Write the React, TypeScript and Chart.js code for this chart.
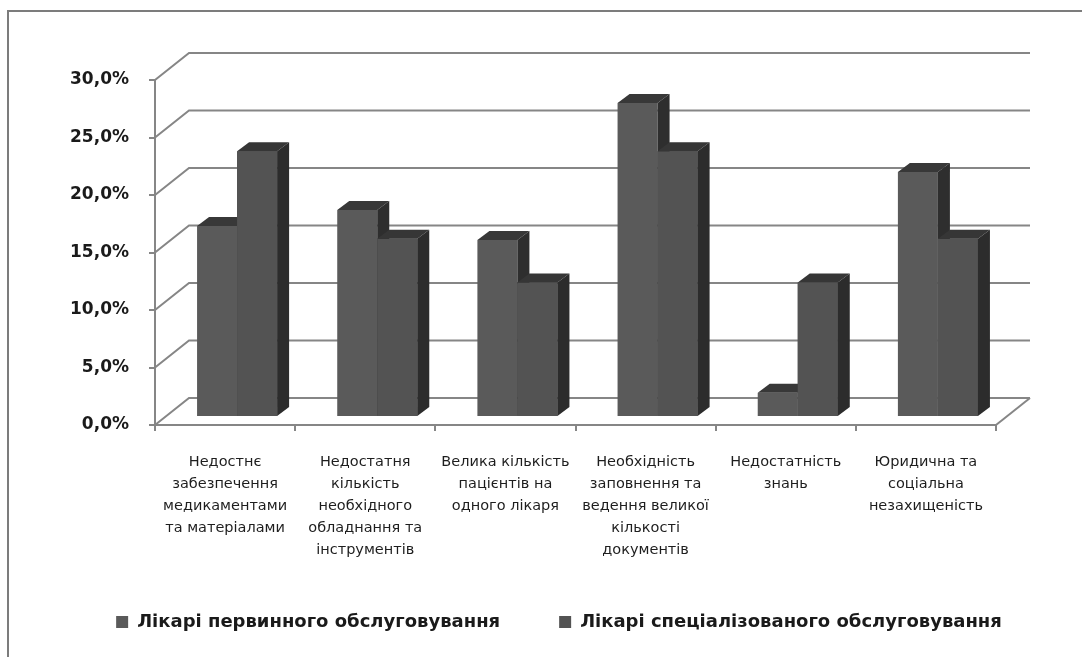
import React, { useEffect, useRef } from "react";
import { Chart, registerables } from "chart.js";

Chart.register(...registerables);

// ---- data ----
const categories: string[][] = [
  ["Недостнє", "забезпечення", "медикаментами", "та матеріалами"],
  ["Недостатня", "кількість", "необхідного", "обладнання та", "інструментів"],
  ["Велика кількість", "пацієнтів на", "одного лікаря"],
  ["Необхідність", "заповнення та", "ведення великої", "кількості", "документів"],
  ["Недостатність", "знань"],
  ["Юридична та", "соціальна", "незахищеність"],
];
const seriesNames = ["Лікарі первинного обслуговування", "Лікарі спеціалізованого обслуговування"];
const primaryValues = [16.6, 18.0, 15.4, 27.3, 2.1, 21.3];
const specializedValues = [23.1, 15.5, 11.7, 23.1, 11.7, 15.5];
const yMin = 0;
const yMax = 30;
const yStep = 5;

// ---- styling ----
const W = 1082;
const H = 657;
const PAD_LEFT = 36;
const PAD_RIGHT = 0;
const PAD_TOP = 80;
const PAD_BOTTOM = 16;
const Y_AXIS_W = 155 - PAD_LEFT;
const RIGHT_SPACE = 86;
const X_AXIS_H = 129;
const X_LABEL_CLIP_H = 150;
const FRONT_COLORS = ["#5a5a5a", "#535353"];
const TOP_COLORS = ["#383838", "#363636"];
const SIDE_COLORS = ["#2e2e2e", "#2c2c2c"];
const AXIS_COLOR = "#868686";
const WALL_DX = 34;
const WALL_DY = -27;
const BAR_SHIFT_X = 12;
const BAR_SHIFT_Y = -8;
const BAR_DX = 12;
const BAR_DY = -9;

const box3d = {
  id: "box3d",
  afterLayout(chart: any) {
    // let multi-line category labels run past the axis box (into legend space)
    const x = chart.scales.x;
    x.bottom = x.top + X_LABEL_CLIP_H;
  },
  beforeDatasetsDraw(chart: any) {
    const { ctx, chartArea, scales } = chart;
    const y = scales.y;
    ctx.save();
    ctx.strokeStyle = AXIS_COLOR;
    ctx.lineWidth = 2;
    for (const t of y.ticks) {
      const py = y.getPixelForValue(t.value);
      ctx.beginPath();
      ctx.moveTo(chartArea.left, py);
      ctx.lineTo(chartArea.left + WALL_DX, py + WALL_DY);
      ctx.lineTo(chartArea.right + WALL_DX, py + WALL_DY);
      ctx.stroke();
    }
    const p0 = y.getPixelForValue(yMin);
    ctx.beginPath();
    ctx.moveTo(chartArea.right, p0);
    ctx.lineTo(chartArea.right + WALL_DX, p0 + WALL_DY);
    ctx.stroke();
    ctx.restore();
    ctx.save();
    ctx.translate(BAR_SHIFT_X, BAR_SHIFT_Y);
  },
  afterDatasetsDraw(chart: any) {
    const { ctx } = chart;
    chart.data.datasets.forEach((_ds: any, di: number) => {
      const meta = chart.getDatasetMeta(di);
      meta.data.forEach((el: any) => {
        const { x, y, base, width } = el.getProps(["x", "y", "base", "width"], true);
        if (di > 0) el.draw(ctx);
        const l = x - width / 2;
        const r = x + width / 2;
        ctx.fillStyle = TOP_COLORS[di];
        ctx.beginPath();
        ctx.moveTo(l, y);
        ctx.lineTo(l + BAR_DX, y + BAR_DY);
        ctx.lineTo(r + BAR_DX, y + BAR_DY);
        ctx.lineTo(r, y);
        ctx.closePath();
        ctx.fill();
        ctx.fillStyle = SIDE_COLORS[di];
        ctx.beginPath();
        ctx.moveTo(r, y);
        ctx.lineTo(r + BAR_DX, y + BAR_DY);
        ctx.lineTo(r + BAR_DX, base + BAR_DY);
        ctx.lineTo(r, base);
        ctx.closePath();
        ctx.fill();
      });
    });
    ctx.restore();
  },
};

export default function App() {
  const ref = useRef<HTMLCanvasElement | null>(null);

  useEffect(() => {
    if (!ref.current) return;
    Chart.defaults.font.family = "'DejaVu Sans', sans-serif";
    const chart = new Chart(ref.current, {
      type: "bar",
      data: {
        labels: categories,
        datasets: [
          {
            label: seriesNames[0],
            data: primaryValues,
            backgroundColor: FRONT_COLORS[0],
            borderWidth: 0,
          },
          {
            label: seriesNames[1],
            data: specializedValues,
            backgroundColor: FRONT_COLORS[1],
            borderWidth: 0,
          },
        ],
      },
      options: {
        responsive: false,
        animation: false,
        devicePixelRatio: 1,
        datasets: {
          bar: { categoryPercentage: 0.571, barPercentage: 1.0 },
        },
        layout: {
          padding: { left: PAD_LEFT, right: PAD_RIGHT, top: PAD_TOP, bottom: PAD_BOTTOM },
        },
        plugins: {
          tooltip: { enabled: false },
          legend: {
            position: "bottom",
            labels: {
              boxWidth: 12,
              boxHeight: 12,
              padding: 59,
              color: "#1a1a1a",
              font: { family: "'DejaVu Sans', sans-serif", size: 18, weight: "bold" },
            },
          },
        },
        scales: {
          x: {
            ticks: {
              autoSkip: false,
              maxRotation: 0,
              minRotation: 0,
              padding: 20,
              color: "#1e1e1e",
              font: { family: "'DejaVu Sans', sans-serif", size: 14.5, lineHeight: 22 / 14.5 },
            },
            grid: {
              drawOnChartArea: false,
              drawTicks: true,
              tickLength: 6,
              color: AXIS_COLOR,
              lineWidth: 2,
              offset: true,
            },
            border: { display: true, color: AXIS_COLOR, width: 2 },
            afterFit: (s: any) => {
              s.height = X_AXIS_H;
            },
          },
          y: {
            min: yMin,
            max: yMax,
            ticks: {
              stepSize: yStep,
              padding: 20,
              color: "#1a1a1a",
              font: { family: "'DejaVu Sans', sans-serif", size: 17, weight: "bold" },
              callback: (v: any) => Number(v).toFixed(1).replace(".", ",") + "%",
            },
            grid: {
              drawOnChartArea: false,
              drawTicks: true,
              tickLength: 6,
              color: AXIS_COLOR,
              lineWidth: 2,
            },
            border: { display: true, color: AXIS_COLOR, width: 2 },
            afterFit: (s: any) => {
              s.width = Y_AXIS_W;
            },
          },
          ySpace: {
            type: "linear",
            position: "right",
            display: true,
            grid: { display: false, drawTicks: false },
            ticks: { display: false },
            border: { display: false },
            afterFit: (s: any) => {
              s.width = RIGHT_SPACE;
            },
          },
        },
      },
      plugins: [box3d],
    });
    return () => chart.destroy();
  }, []);

  return (
    <div style={{ position: "fixed", left: 0, top: 0, width: W, height: H, overflow: "hidden", background: "#ffffff" }}>
      <div
        style={{
          position: "absolute",
          left: 7,
          top: 10,
          width: 1200,
          height: 800,
          border: "2px solid #7c7c7c",
          boxSizing: "border-box",
        }}
      />
      <canvas ref={ref} width={W} height={H} style={{ position: "absolute", left: 0, top: 0, width: W, height: H }} />
    </div>
  );
}
